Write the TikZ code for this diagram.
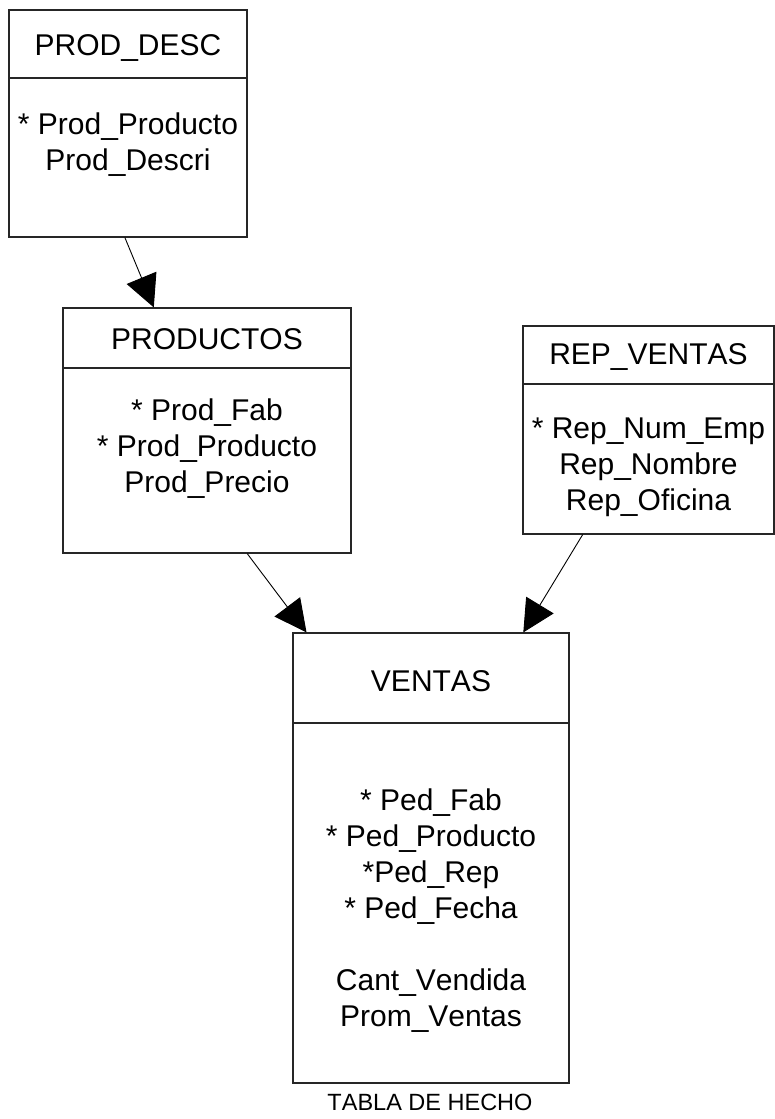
\documentclass[tikz,border=0pt]{standalone}
\usepackage{fontspec}
\setmainfont[Kerning=Off]{Liberation Sans}
\usetikzlibrary{arrows.meta,calc}

\begin{document}
\begin{tikzpicture}[x=1pt,y=-1pt,
  box/.style={draw=black!85, line width=1.2pt, inner sep=0pt, fill=white},
  sep/.style={draw=black!85, line width=1.2pt},
  title/.style={font=\fontsize{30}{36}\selectfont, inner sep=0pt, anchor=base},
  body/.style={font=\fontsize{30}{36}\selectfont, align=center, inner sep=0pt, anchor=north},
  note/.style={font=\fontsize{23.5}{28}\selectfont, inner sep=0pt},
  link/.style={draw=black, line width=0.9pt, -{Triangle[length=32pt,width=32pt]}},
]
\useasboundingbox (0,0) rectangle (775,1119);

% ---- PROD_DESC ----
\node[box, minimum width=238pt, minimum height=227pt] (pd) at (128,123.5) {};
\draw[sep] (pd.west |- 0,78) -- (pd.east |- 0,78);
\node[title] (pdt) at (128,55.5) {PROD\_DESC};
\node[body] (pdb) at (128,112.5) {* Prod\_Producto\\Prod\_Descri};

% ---- PRODUCTOS ----
\node[box, minimum width=288pt, minimum height=245pt] (pr) at (207,430.5) {};
\draw[sep] (pr.west |- 0,368) -- (pr.east |- 0,368);
\node[title] (prt) at (207,349) {PRODUCTOS};
\node[body] (prb) at (207,398.5) {* Prod\_Fab\\* Prod\_Producto\\Prod\_Precio};

% ---- REP_VENTAS ----
\node[box, minimum width=251pt, minimum height=208pt] (rv) at (648.5,430) {};
\draw[sep] (rv.west |- 0,384) -- (rv.east |- 0,384);
\node[title] (rvt) at (648.5,364.5) {REP\_VENTAS};
\node[body] (rvb) at (648.5,417.5) {* Rep\_Num\_Emp\\Rep\_Nombre\\Rep\_Oficina};

% ---- VENTAS ----
\node[box, minimum width=276pt, minimum height=450pt] (ve) at (431,858) {};
\draw[sep] (ve.west |- 0,723) -- (ve.east |- 0,723);
\node[title] (vet) at (431,691.5) {VENTAS};
\node[body] (veb) at (431,788.5) {* Ped\_Fab\\* Ped\_Producto\\*Ped\_Rep\\* Ped\_Fecha\\[36pt]Cant\_Vendida\\Prom\_Ventas};
\node[note] (ven) at (430,1102) {TABLA DE HECHO};

% ---- connectors ----
\coordinate (pd-out) at ($(pd.south west)!0.487!(pd.south east)$);
\coordinate (pr-in)  at ($(pr.north west)!0.316!(pr.north east)$);
\coordinate (pr-out) at ($(pr.south west)!0.639!(pr.south east)$);
\coordinate (rv-out) at ($(rv.south west)!0.239!(rv.south east)$);
\coordinate (ve-in1) at ($(ve.north west)!0.051!(ve.north east)$);
\coordinate (ve-in2) at ($(ve.north west)!0.833!(ve.north east)$);
\draw[link] (pd-out) -- (pr-in);
\draw[link] (pr-out) -- (ve-in1);
\draw[link] (rv-out) -- (ve-in2);
\end{tikzpicture}
\end{document}
